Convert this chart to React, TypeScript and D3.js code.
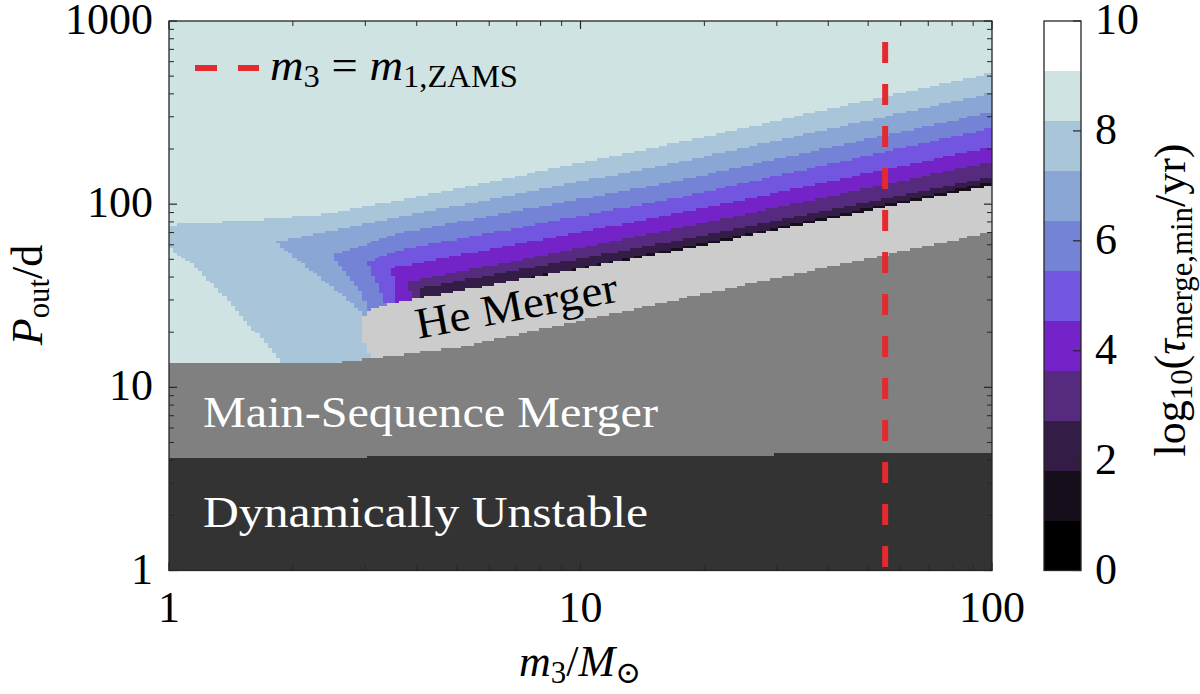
import React, { useMemo } from "react";
import * as d3 from "d3";

type Pt = [number, number];

// ---------- data ----------
const xTickValues = [1, 10, 100];
const yTickValues = [1, 10, 100, 1000];
const cbarTickValues = [0, 2, 4, 6, 8, 10];
const cbarExtent: [number, number] = [0, 10];
const bandColors = [
  "#000000", "#160f1b", "#331d47", "#562a7e", "#7423c8", "#7356df",
  "#7583d7", "#8aa6d4", "#a8c5da", "#cfe4e2", "#ffffff",
];
const regionColors = { du: "#333333", ms: "#808080", he: "#cccccc" };
const m1Zams = 55; // m3 = m1,ZAMS  (Msun)

// contour boundaries [m3 (Msun), Pout (d)] of region log10(tau) < level of band k+1
const c8Upper: Pt[] = [[1, 76.9], [1.66, 81.9], [2.4, 88], [4.56, 116], [17.5, 218], [100, 519]];
const c8Lower: Pt[] = [[1, 57.6], [1.16, 45.4], [1.39, 30.0], [1.63, 19.8], [1.89, 13.4], [2.2, 5]];
const c7Upper: Pt[] = [[1.81, 62.1], [3.64, 85.0], [17.5, 170], [100, 404]];
const c7Lower: Pt[] = [[1.81, 62.1], [2.08, 48.3], [2.46, 36.2], [2.91, 26.4], [3.2, 12]];
const c6Upper: Pt[] = [[2.49, 52.7], [3.64, 69.5], [17.5, 135], [100, 318]];
const c6Lower: Pt[] = [[2.49, 52.7], [2.96, 31.9], [3.3, 15]];
const c5Upper: Pt[] = [[3.03, 48.3], [3.64, 56.2], [17.5, 109], [100, 260]];
const c5Lower: Pt[] = [[3.03, 48.3], [3.35, 28.8], [3.6, 15]];
const c4Upper: Pt[] = [[3.48, 44.8], [17.5, 89.4], [100, 205]];
const c4Lower: Pt[] = [[3.48, 44.8], [3.6, 28], [3.8, 15]];
const c3Upper: Pt[] = [[3.81, 37.6], [17.5, 74.1], [100, 170]];
const c3Lower: Pt[] = [[3.81, 37.6], [3.95, 25]];
const c2Upper: Pt[] = [[4.07, 34.8], [17.5, 63.7], [100, 141]];
const c2Lower: Pt[] = [[4.07, 34.8], [4.2, 25]];
const c1Upper: Pt[] = [[4.56, 31.9], [17.5, 57.6], [100, 132]];
const c1Lower: Pt[] = [[4.56, 31.9], [4.7, 25]];

const heOutline: Pt[] = [[3.1, 5], [3.08, 14.6], [2.97, 18], [2.97, 24.5], [3.1, 27], [3.85, 30], [17.5, 56.2], [100, 127]];
const msTop: Pt[] = [[1, 13.4], [2.37, 13.4], [3.03, 14.3], [5.09, 16.6], [23.1, 34.8], [100, 70.4]];
const duTop: Pt[] = [[1, 4.11], [100, 4.38]];

const contourBands = [
  { band: 1, upper: c1Upper, lower: c1Lower },
  { band: 2, upper: c2Upper, lower: c2Lower },
  { band: 3, upper: c3Upper, lower: c3Lower },
  { band: 4, upper: c4Upper, lower: c4Lower },
  { band: 5, upper: c5Upper, lower: c5Lower },
  { band: 6, upper: c6Upper, lower: c6Lower },
  { band: 7, upper: c7Upper, lower: c7Lower },
  { band: 8, upper: c8Upper, lower: c8Lower },
];
const backgroundBand = 9;

// ---------- layout ----------
const W = 1200;
const H = 694;
const PL = 169, PR = 992, PT = 21, PB = 570.5;
const CBL = 1044, CBR = 1081;
const FS = 44;
const FONT = "'Liberation Serif', 'DejaVu Serif', serif";
const AX = "#262626";
const NCOLS = 200;
const NROWS = 220;

export default function App() {
  const x = d3.scaleLog().domain([1, 100]).range([PL, PR]);
  const y = d3.scaleLog().domain([1, 1000]).range([PB, PT]);
  const cb = d3.scaleLinear().domain(cbarExtent).range([PB, PT]);

  const rects = useMemo(() => {
    const toPx = (p: Pt): [number, number] => [x(p[0]), y(p[1])];
    const X0 = PL - 40, X1 = PR + 40, Y0 = PB + 40;
    const bandPolys = contourBands.map((c) => {
      const lo = c.lower.map(toPx).reverse();
      const up = c.upper.map(toPx);
      const last = up[up.length - 1];
      const first = lo[0];
      return {
        band: c.band,
        poly: [...lo, ...up, [X1, last[1]], [X1, Y0], [first[0], Y0]] as [number, number][],
      };
    });
    const edgePoly = (top: Pt[], extendLeft: boolean) => {
      const pts = top.map(toPx);
      const last = pts[pts.length - 1];
      const first = pts[0];
      const res: [number, number][] = [];
      if (extendLeft) res.push([X0, first[1]]);
      res.push(...pts, [X1, last[1]], [X1, Y0], [extendLeft ? X0 : first[0], Y0]);
      return res;
    };
    const duPoly = edgePoly(duTop, true);
    const msPoly = edgePoly(msTop, true);
    const hePoly = edgePoly(heOutline, false);

    const classify = (px: number, py: number): string => {
      if (d3.polygonContains(duPoly, [px, py])) return regionColors.du;
      if (d3.polygonContains(msPoly, [px, py])) return regionColors.ms;
      if (d3.polygonContains(hePoly, [px, py])) return regionColors.he;
      for (const bp of bandPolys) {
        if (d3.polygonContains(bp.poly, [px, py])) return bandColors[bp.band];
      }
      return bandColors[backgroundBand];
    };

    const [lx0, lx1] = [0, 2];
    const [ly0, ly1] = [0, 3];
    const out: { x: number; y: number; w: number; h: number; c: string }[] = [];
    for (let i = 0; i < NCOLS; i++) {
      const a = lx0 + ((lx1 - lx0) * i) / NCOLS;
      const b = lx0 + ((lx1 - lx0) * (i + 1)) / NCOLS;
      const px0 = x(Math.pow(10, a));
      const px1 = x(Math.pow(10, b));
      const pxc = x(Math.pow(10, (a + b) / 2));
      let runStart = 0;
      let runCls: string | null = null;
      for (let j = 0; j <= NROWS; j++) {
        let cls: string | null = null;
        if (j < NROWS) {
          const lc = ly0 + ((ly1 - ly0) * (j + 0.5)) / NROWS;
          cls = classify(pxc, y(Math.pow(10, lc)));
        }
        if (cls !== runCls) {
          if (runCls !== null) {
            const yb = y(Math.pow(10, ly0 + ((ly1 - ly0) * runStart) / NROWS));
            const yt = y(Math.pow(10, ly0 + ((ly1 - ly0) * j) / NROWS));
            out.push({ x: px0, y: yt, w: px1 - px0, h: yb - yt, c: runCls });
          }
          runStart = j;
          runCls = cls;
        }
      }
    }
    return out;
  }, []);

  const minorX: number[] = [];
  [1, 10].forEach((d) => { for (let k = 2; k <= 9; k++) minorX.push(d * k); });
  const minorY: number[] = [];
  [1, 10, 100].forEach((d) => { for (let k = 2; k <= 9; k++) minorY.push(d * k); });

  const nb = bandColors.length;
  const bandH = (cbarExtent[1] - cbarExtent[0]) / nb;

  return (
    <svg width={W} height={H} style={{ position: "absolute", left: 0, top: 0, background: "#fff" }} fontFamily={FONT}>
      {/* field */}
      <g shapeRendering="crispEdges">
        {rects.map((r, i) => (
          <rect key={i} x={r.x} y={r.y} width={r.w} height={r.h} fill={r.c} />
        ))}
      </g>

      {/* region labels */}
      <text x={203} y={427} fontSize={FS} fill="#fff" textLength={455} lengthAdjust="spacingAndGlyphs">Main-Sequence Merger</text>
      <text x={203} y={527} fontSize={FS} fill="#fff" textLength={445} lengthAdjust="spacingAndGlyphs">Dynamically Unstable</text>
      <text transform="translate(519,320) rotate(-10.5)" textAnchor="middle" fontSize={FS} fill="#000" textLength={205} lengthAdjust="spacingAndGlyphs">He Merger</text>

      {/* m3 = m1,ZAMS line */}
      <line x1={x(m1Zams)} x2={x(m1Zams)} y1={PT} y2={PB} stroke="#e42a2f" strokeWidth={6} strokeDasharray="21 21" strokeDashoffset={21} />

      {/* axes box and ticks */}
      <rect x={PL} y={PT} width={PR - PL} height={PB - PT} fill="none" stroke={AX} strokeWidth={1.3} />
      {xTickValues.map((v) => (
        <g key={"xt" + v}>
          <line x1={x(v)} x2={x(v)} y1={PB} y2={PB - 8} stroke={AX} strokeWidth={1.2} />
          <line x1={x(v)} x2={x(v)} y1={PT} y2={PT + 8} stroke={AX} strokeWidth={1.2} />
          <text x={x(v)} y={622} textAnchor="middle" fontSize={FS} fill="#000">{v}</text>
        </g>
      ))}
      {minorX.map((v) => (
        <g key={"xm" + v}>
          <line x1={x(v)} x2={x(v)} y1={PB} y2={PB - 5} stroke={AX} strokeWidth={1} />
          <line x1={x(v)} x2={x(v)} y1={PT} y2={PT + 5} stroke={AX} strokeWidth={1} />
        </g>
      ))}
      {yTickValues.map((v) => (
        <g key={"yt" + v}>
          <line x1={PL} x2={PL + 8} y1={y(v)} y2={y(v)} stroke={AX} strokeWidth={1.2} />
          <line x1={PR} x2={PR - 8} y1={y(v)} y2={y(v)} stroke={AX} strokeWidth={1.2} />
          <text x={153} y={y(v) + 13} textAnchor="end" fontSize={FS} fill="#000">{v}</text>
        </g>
      ))}
      {minorY.map((v) => (
        <g key={"ym" + v}>
          <line x1={PL} x2={PL + 5} y1={y(v)} y2={y(v)} stroke={AX} strokeWidth={1} />
          <line x1={PR} x2={PR - 5} y1={y(v)} y2={y(v)} stroke={AX} strokeWidth={1} />
        </g>
      ))}

      {/* axis titles */}
      <text x={580} y={676} textAnchor="middle" fontSize={FS} fill="#000">
        <tspan fontStyle="italic">m</tspan>
        <tspan fontSize={FS * 0.7} dy={7}>3</tspan>
        <tspan dy={-7}>/</tspan>
        <tspan fontStyle="italic">M</tspan>
        <tspan fontSize={FS * 0.7} dy={7}>⊙</tspan>
      </text>
      <text transform="translate(42,295) rotate(-90)" textAnchor="middle" fontSize={FS} fill="#000">
        <tspan fontStyle="italic">P</tspan>
        <tspan fontSize={FS * 0.7} dy={7}>out</tspan>
        <tspan dy={-7}>/d</tspan>
      </text>

      {/* legend */}
      <line x1={195} x2={259} y1={68} y2={68} stroke="#e42a2f" strokeWidth={6} strokeDasharray="22 21" />
      <text x={270} y={80} fontSize={FS} fill="#000" textLength={248} lengthAdjust="spacingAndGlyphs">
        <tspan fontStyle="italic">m</tspan>
        <tspan fontSize={FS * 0.7} dy={7}>3</tspan>
        <tspan dy={-7}> = </tspan>
        <tspan fontStyle="italic">m</tspan>
        <tspan fontSize={FS * 0.7} dy={7}>1,ZAMS</tspan>
      </text>

      {/* colorbar */}
      <g shapeRendering="crispEdges">
        {bandColors.map((c, k) => (
          <rect key={"cb" + k} x={CBL} width={CBR - CBL}
            y={cb(cbarExtent[0] + (k + 1) * bandH)}
            height={cb(cbarExtent[0] + k * bandH) - cb(cbarExtent[0] + (k + 1) * bandH)}
            fill={c} />
        ))}
      </g>
      <rect x={CBL} y={PT} width={CBR - CBL} height={PB - PT} fill="none" stroke={AX} strokeWidth={1.3} />
      {cbarTickValues.map((v) => (
        <g key={"cbt" + v}>
          <line x1={CBR} x2={CBR - 8} y1={cb(v)} y2={cb(v)} stroke={AX} strokeWidth={1.2} />
          <text x={1095} y={cb(v) + 13} fontSize={FS} fill="#000">{v}</text>
        </g>
      ))}
      <text transform="translate(1185,300) rotate(-90)" textAnchor="middle" fontSize={FS} fill="#000">
        <tspan>log</tspan>
        <tspan fontSize={FS * 0.7} dy={7}>10</tspan>
        <tspan dy={-7}>(</tspan>
        <tspan fontStyle="italic">τ</tspan>
        <tspan fontSize={FS * 0.7} dy={7}>merge,min</tspan>
        <tspan dy={-7}>/yr)</tspan>
      </text>
    </svg>
  );
}
